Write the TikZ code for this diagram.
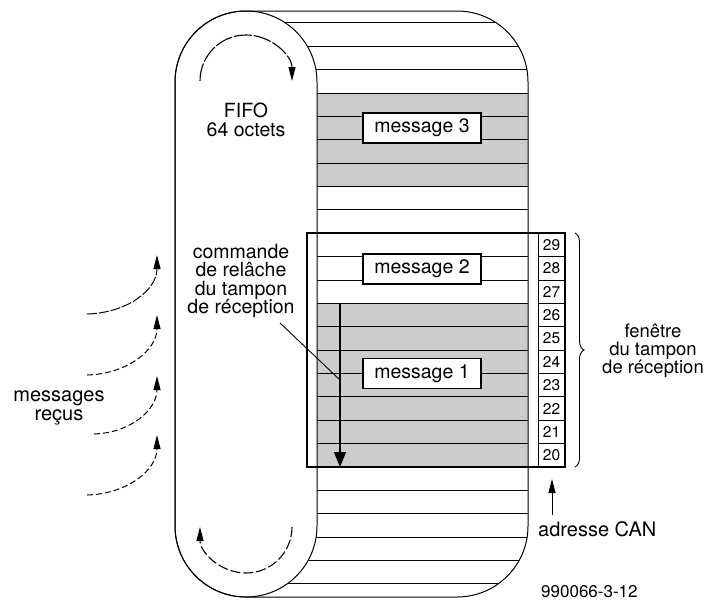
\documentclass[tikz,border=0pt]{standalone}
\usepackage{fontspec}
\setmainfont{TeX Gyre Heros}
\usetikzlibrary{arrows.meta,decorations.pathreplacing}
\begin{document}
\begin{tikzpicture}[x=1pt,y=-1pt,
  thinline/.style={line width=0.9pt},
  msgbox/.style={draw, line width=1.1pt, fill=white, minimum width=118pt, minimum height=30pt, inner sep=0pt, font=\fontsize{19.5}{19}\selectfont},
  cell/.style={draw, line width=0.9pt, minimum width=27pt, minimum height=23.375pt, inner sep=0pt, font=\fontsize{15.5}{15.5}\selectfont},
  lbl/.style={align=center, inner sep=0pt, font=\fontsize{19.5}{18.5}\selectfont},
  tipend/.style={-{Triangle[width=7pt,length=14pt]}},
  flowdash/.style={line width=1pt, dash pattern=on 6pt off 3pt},
]
\useasboundingbox (0,0) rectangle (706,605);

% stripes and grey rows
\begin{scope}
  \clip[rounded corners=71pt] (175,11) rectangle (528,597);
  \fill[black!20] (317,93) rectangle (528,186.5);
  \fill[black!20] (317,303.375) rectangle (528,467);
  \foreach \k in {-3,...,21} {
    \pgfmathsetmacro{\yy}{93+23.375*\k}
    \draw[thinline] (175,\yy) -- (528,\yy);
  }
\end{scope}

% drum outline and FIFO stadium
\draw[line width=1pt, fill=white, rounded corners=71pt] (175,11) rectangle (317,597);
\draw[line width=1pt, rounded corners=71pt] (175,11) rectangle (528,597);

% circulation arrows in the stadium
\coordinate (ta) at (200,81);
\coordinate (tb) at (292,81);
\draw[line width=1.1pt, dash pattern=on 18pt off 2pt, tipend] (ta) .. controls (200,55.6) and (220.6,35) .. (246,35) .. controls (271.4,35) and (292,55.6) .. (tb);
\coordinate (ba) at (292,527);
\coordinate (bb) at (200,527);
\draw[line width=1.1pt, dash pattern=on 10pt off 3pt, tipend] (ba) .. controls (292,552.4) and (271.4,573) .. (246,573) .. controls (220.6,573) and (200,552.4) .. (bb);

\node[lbl] (fifo) at (246,120) {FIFO\\64 octets};

% message boxes
\node[msgbox] (m3) at (422,128) {message 3};
\node[msgbox] (m2) at (422,269) {message 2};
\node[msgbox] (m1) at (422,373.5) {message 1};

% address cells
\foreach \i in {0,...,9} {
  \pgfmathtruncatemacro{\n}{29-\i}
  \pgfmathsetmacro{\yc}{233.25+23.375*\i+11.6875}
  \node[cell] (c\n) at (551.5,\yc) {\n};
}

% receive buffer window
\draw[line width=2.2pt] (307,233.25) rectangle (565,467);

% release command arrow
\coordinate (va) at (340,303.5);
\coordinate (vb) at (340,467);
\draw[line width=1.2pt, -{Triangle[width=12pt,length=15pt]}] (va) -- (vb);
\node[lbl] (cmd) at (241,281) {commande\\de relâche\\du tampon\\de réception};
\coordinate (la) at (280,323);
\coordinate (lb) at (340,380);
\draw[thinline] (la) -- (lb);

% brace
\draw[line width=0.9pt, decorate, decoration={brace, amplitude=9pt}] (575,233) -- (575,467);
\node[lbl, font=\fontsize{18.5}{18}\selectfont] (fen) at (653,351) {fenêtre\\du tampon\\de réception};

% received messages
\coordinate (s1) at (87,314);  \coordinate (t1) at (157,255);
\coordinate (s2) at (87,375);  \coordinate (t2) at (157,315);
\coordinate (s3) at (94,434);  \coordinate (t3) at (157,376);
\coordinate (s4) at (87,495);  \coordinate (t4) at (157,435);
\draw[line width=1pt, dash pattern=on 10pt off 2pt, tipend] (s1) .. controls (127,313) and (157,290) .. (t1);
\draw[flowdash, tipend] (s2) .. controls (127,374) and (157,350) .. (t2);
\draw[flowdash, tipend] (s3) .. controls (130,433) and (157,410) .. (t3);
\draw[flowdash, tipend] (s4) .. controls (127,494) and (157,470) .. (t4);
\node[lbl, font=\fontsize{20}{18.5}\selectfont] (recus) at (59,408) {messages\\reçus};

% CAN address
\node[anchor=base west, inner sep=0pt, font=\fontsize{20}{20}\selectfont] (can) at (538,536) {adresse CAN};
\coordinate (ca) at (552,515);
\coordinate (cb) at (552,479);
\draw[line width=1pt, tipend] (ca) -- (cb);

\node[anchor=base west, inner sep=0pt, font=\fontsize{17}{17}\selectfont] (ref) at (541,597) {990066-3-12};
\end{tikzpicture}
\end{document}
